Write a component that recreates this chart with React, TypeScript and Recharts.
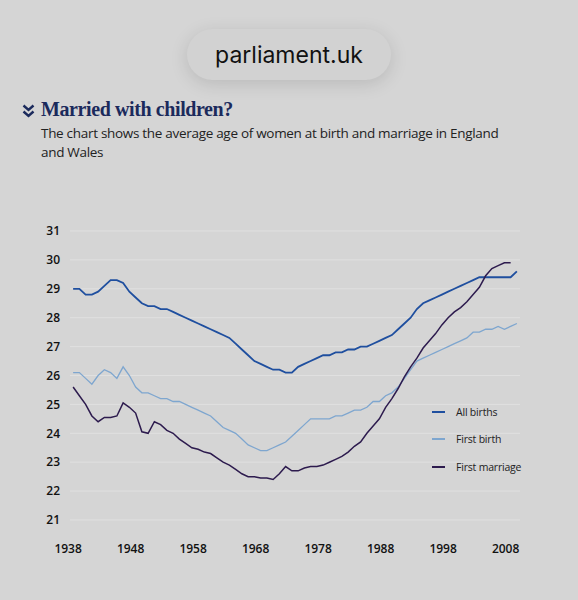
import { LineChart, Line, XAxis, YAxis, CartesianGrid } from "recharts";

// years 1938..2009
const years = [
  1938, 1939, 1940, 1941, 1942, 1943, 1944, 1945, 1946, 1947, 1948, 1949,
  1950, 1951, 1952, 1953, 1954, 1955, 1956, 1957, 1958, 1959, 1960, 1961,
  1962, 1963, 1964, 1965, 1966, 1967, 1968, 1969, 1970, 1971, 1972, 1973,
  1974, 1975, 1976, 1977, 1978, 1979, 1980, 1981, 1982, 1983, 1984, 1985,
  1986, 1987, 1988, 1989, 1990, 1991, 1992, 1993, 1994, 1995, 1996, 1997,
  1998, 1999, 2000, 2001, 2002, 2003, 2004, 2005, 2006, 2007, 2008, 2009,
];

const allBirths = [
  29.0, 29.0, 28.8, 28.8, 28.9, 29.1, 29.3, 29.3, 29.2, 28.9, 28.7, 28.5,
  28.4, 28.4, 28.3, 28.3, 28.2, 28.1, 28.0, 27.9, 27.8, 27.7, 27.6, 27.5,
  27.4, 27.3, 27.1, 26.9, 26.7, 26.5, 26.4, 26.3, 26.2, 26.2, 26.1, 26.1,
  26.3, 26.4, 26.5, 26.6, 26.7, 26.7, 26.8, 26.8, 26.9, 26.9, 27.0, 27.0,
  27.1, 27.2, 27.3, 27.4, 27.6, 27.8, 28.0, 28.3, 28.5, 28.6, 28.7, 28.8,
  28.9, 29.0, 29.1, 29.2, 29.3, 29.4, 29.4, 29.4, 29.4, 29.4, 29.4, 29.6,
];

const firstBirth = [
  26.1, 26.1, 25.9, 25.7, 26.0, 26.2, 26.1, 25.9, 26.3, 26.0, 25.6, 25.4,
  25.4, 25.3, 25.2, 25.2, 25.1, 25.1, 25.0, 24.9, 24.8, 24.7, 24.6, 24.4,
  24.2, 24.1, 24.0, 23.8, 23.6, 23.5, 23.4, 23.4, 23.5, 23.6, 23.7, 23.9,
  24.1, 24.3, 24.5, 24.5, 24.5, 24.5, 24.6, 24.6, 24.7, 24.8, 24.8, 24.9,
  25.1, 25.1, 25.3, 25.4, 25.6, 25.9, 26.2, 26.5, 26.6, 26.7, 26.8, 26.9,
  27.0, 27.1, 27.2, 27.3, 27.5, 27.5, 27.6, 27.6, 27.7, 27.6, 27.7, 27.8,
];

const firstMarriage = [
  25.6, 25.3, 25.0, 24.6, 24.4, 24.55, 24.55, 24.6, 25.05, 24.9, 24.7, 24.05,
  24.0, 24.4, 24.3, 24.1, 24.0, 23.8, 23.65, 23.5, 23.45, 23.35, 23.3, 23.15,
  23.0, 22.9, 22.75, 22.6, 22.5, 22.5, 22.45, 22.45, 22.4, 22.6, 22.85, 22.7,
  22.7, 22.8, 22.85, 22.85, 22.9, 23.0, 23.1, 23.2, 23.35, 23.55, 23.7, 24.0,
  24.25, 24.5, 24.9, 25.2, 25.55, 25.95, 26.3, 26.6, 26.95, 27.2, 27.45, 27.75,
  28.0, 28.2, 28.35, 28.55, 28.8, 29.05, 29.45, 29.7, 29.8, 29.9, 29.9, null,
];

const xTicks = [1938, 1948, 1958, 1968, 1978, 1988, 1998, 2008];
const yTicks = [21, 22, 23, 24, 25, 26, 27, 28, 29, 30, 31];

const series = [
  { key: "allBirths", name: "All births", color: "#1f4f9f", width: 1.8 },
  { key: "firstBirth", name: "First birth", color: "#7ea6cf", width: 1.3 },
  { key: "firstMarriage", name: "First marriage", color: "#2d1b4e", width: 1.5 },
];

const data = years.map((year, i) => ({
  year,
  allBirths: allBirths[i],
  firstBirth: firstBirth[i],
  firstMarriage: firstMarriage[i],
}));

const sans = "'Open Sans', 'Noto Sans', sans-serif";

const LegendBox = () => (
  <div
    style={{
      position: "absolute",
      left: 432,
      top: 398,
      fontFamily: sans,
      fontSize: 10.5,
      letterSpacing: -0.2,
      color: "#222",
    }}
  >
    {series.map((s) => (
      <div
        key={s.key}
        style={{ display: "flex", alignItems: "center", height: 27.5 }}
      >
        <div
          style={{
            width: 13,
            height: 2,
            background: s.color,
            marginRight: 11,
          }}
        />
        <span>{s.name}</span>
      </div>
    ))}
  </div>
);

export default function App() {
  return (
    <div
      style={{
        position: "absolute",
        left: 0,
        top: 0,
        width: 578,
        height: 600,
        background: "#d5d5d5",
        overflow: "hidden",
      }}
    >
      <div
        style={{
          position: "absolute",
          left: 187,
          top: 29,
          width: 204,
          height: 51,
          borderRadius: 26,
          background: "#d2d2d2",
          boxShadow: "0 4px 18px rgba(0,0,0,0.13)",
          display: "flex",
          alignItems: "center",
          justifyContent: "center",
          fontFamily: "Inter, Roboto, sans-serif",
          fontSize: 23,
          color: "#111",
        }}
      >
        parliament.uk
      </div>

      <svg
        style={{ position: "absolute", left: 22, top: 104 }}
        width={13}
        height={14}
        viewBox="0 0 13 14"
      >
        <path
          d="M1.5 1.5 L6.5 6 L11.5 1.5 M1.5 7.5 L6.5 12 L11.5 7.5"
          fill="none"
          stroke="#1b2a5c"
          strokeWidth={2.4}
        />
      </svg>

      <div
        style={{
          position: "absolute",
          left: 41,
          top: 98,
          fontFamily: "'Liberation Serif', serif",
          fontWeight: "bold",
          fontSize: 20,
          letterSpacing: -0.4,
          color: "#1b2a5c",
          whiteSpace: "nowrap",
        }}
      >
        Married with children?
      </div>

      <div
        style={{
          position: "absolute",
          left: 41,
          top: 124,
          fontFamily: sans,
          fontSize: 13.5,
          lineHeight: "19px",
          letterSpacing: -0.3,
          color: "#222",
          whiteSpace: "nowrap",
        }}
      >
        The chart shows the average age of women at birth and marriage in England
        <br />
        and Wales
      </div>

      <div style={{ position: "absolute", left: 0, top: 0 }}>
        <LineChart
          width={578}
          height={600}
          data={data}
          margin={{ top: 231, right: 58, bottom: 50, left: 30 }}
        >
          <CartesianGrid vertical={false} stroke="#e0e0e0" strokeWidth={1} />
          <XAxis
            dataKey="year"
            type="number"
            domain={[1937.5, 2009.5]}
            ticks={xTicks}
            tickLine={false}
            axisLine={false}
            height={30}
            tickMargin={18}
            dx={-5}
            tick={{ fill: "#111", fontSize: 12, fontFamily: sans, fontWeight: 600 }}
          />
          <YAxis
            domain={[21, 31]}
            ticks={yTicks}
            tickLine={false}
            axisLine={false}
            width={40}
            tickMargin={4}
            tick={{ fill: "#111", fontSize: 12, fontFamily: sans, fontWeight: 600 }}
          />
          {series.map((s) => (
            <Line
              key={s.key}
              type="linear"
              dataKey={s.key}
              name={s.name}
              stroke={s.color}
              strokeWidth={s.width}
              dot={false}
              isAnimationActive={false}
            />
          ))}
        </LineChart>
      </div>

      <LegendBox />
    </div>
  );
}
